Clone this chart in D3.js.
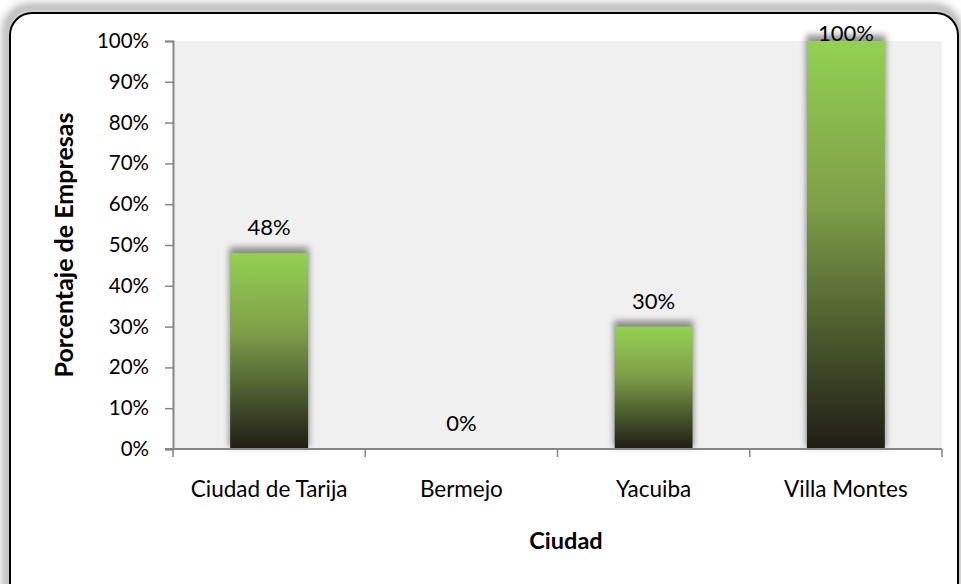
<!DOCTYPE html>
<html>
<head>
<meta charset="utf-8">
<script src="https://cdn.jsdelivr.net/npm/d3@7"></script>
<style>
	html, body { margin: 0; padding: 0; background: #fff; }
	svg text { font-family: Lato, "Open Sans", sans-serif; fill: #000; }
</style>
</head>
<body>
<div id="chart"></div>
<script>
// data
var ciudades = ["Ciudad de Tarija", "Bermejo", "Yacuiba", "Villa Montes"];
var porcentajes = [0.48, 0, 0.30, 1.00];
var yTicks = [0, 0.1, 0.2, 0.3, 0.4, 0.5, 0.6, 0.7, 0.8, 0.9, 1.0];

var w = 961;
var h = 584;

var xrange = [173, 942];
var yrange = [449, 41];

var svg = d3.select("#chart").append("svg")
	.attr("width", w)
	.attr("height", h);

var defs = svg.append("defs");

var grad = defs.append("linearGradient")
	.attr("id", "barGrad")
	.attr("x1", 0).attr("y1", 0)
	.attr("x2", 0).attr("y2", 1);
grad.append("stop").attr("offset", "0%").attr("stop-color", "#93d152");
grad.append("stop").attr("offset", "40%").attr("stop-color", "#7e9f48");
grad.append("stop").attr("offset", "75%").attr("stop-color", "#46532b");
grad.append("stop").attr("offset", "100%").attr("stop-color", "#1f1d15");

defs.append("filter")
	.attr("id", "blur3")
	.attr("x", "-20%").attr("y", "-20%")
	.attr("width", "140%").attr("height", "140%")
	.append("feGaussianBlur")
	.attr("stdDeviation", 3);

defs.append("filter")
	.attr("id", "blur5")
	.attr("x", "-5%").attr("y", "-5%")
	.attr("width", "110%").attr("height", "110%")
	.append("feGaussianBlur")
	.attr("stdDeviation", 4);

// outer rounded frame with a soft shadow
svg.append("rect")
	.attr("x", 7).attr("y", 8)
	.attr("width", 950).attr("height", 620)
	.attr("rx", 22)
	.attr("fill", "none")
	.attr("stroke", "#666")
	.attr("stroke-width", 7)
	.attr("opacity", 0.65)
	.attr("filter", "url(#blur5)");

svg.append("rect")
	.attr("x", 10).attr("y", 13)
	.attr("width", 948).attr("height", 620)
	.attr("rx", 22)
	.attr("fill", "#fff")
	.attr("stroke", "#000")
	.attr("stroke-width", 2);

// scales
var xscale = d3.scaleBand()
	.domain(ciudades)
	.range(xrange)
	.padding(0);

var yscale = d3.scaleLinear()
	.domain([0, 1])
	.range(yrange);

var barW = xscale.bandwidth() * 0.405;

// plot area
svg.append("rect")
	.attr("x", xrange[0])
	.attr("y", yrange[1])
	.attr("width", xrange[1] - xrange[0])
	.attr("height", yrange[0] - yrange[1])
	.attr("fill", "#f0f0f0");

// bar shadows
svg.selectAll("rect.bar-shadow")
	.data(porcentajes)
	.enter().append("rect")
		.attr("class", "bar-shadow")
		.attr("x", function(d, i){ return xscale(ciudades[i]) + (xscale.bandwidth() - barW) / 2 - 1; })
		.attr("y", function(d){ return yscale(d) - 6; })
		.attr("width", barW + 2)
		.attr("height", function(d){ return d > 0 ? yscale(0) - yscale(d) + 4 : 0; })
		.attr("fill", "#3a3a3a")
		.attr("opacity", 0.55)
		.attr("filter", "url(#blur3)");

// bars
svg.selectAll("rect.bar")
	.data(porcentajes)
	.enter().append("rect")
		.attr("class", "bar")
		.attr("x", function(d, i){ return xscale(ciudades[i]) + (xscale.bandwidth() - barW) / 2; })
		.attr("y", function(d){ return yscale(d); })
		.attr("width", barW)
		.attr("height", function(d){ return yscale(0) - yscale(d); })
		.attr("fill", "url(#barGrad)");

// y axis
var yaxis = d3.axisLeft(yscale)
	.tickValues(yTicks)
	.tickSize(8)
	.tickPadding(16)
	.tickFormat(d3.format(".0%"));

var gy = svg.append("g")
	.attr("transform", "translate(" + xrange[0] + ",0)")
	.call(yaxis);
gy.select(".domain").attr("stroke", "#868686").attr("stroke-width", 2);
gy.selectAll(".tick line").attr("stroke", "#868686").attr("stroke-width", 1.5);
gy.selectAll(".tick text")
	.style("font-size", "20.5px")
	.style("font-family", "Lato, sans-serif")
	.attr("fill", "#000");

// x axis: ticks sit on category boundaries
svg.append("line")
	.attr("x1", xrange[0] - 8).attr("x2", xrange[1])
	.attr("y1", yscale(0)).attr("y2", yscale(0))
	.attr("stroke", "#868686").attr("stroke-width", 2);

var bounds = ciudades.map(function(c){ return xscale(c); }).concat([xrange[1]]);
svg.selectAll("line.x-tick")
	.data(bounds)
	.enter().append("line")
		.attr("class", "x-tick")
		.attr("x1", function(d){ return d; })
		.attr("x2", function(d){ return d; })
		.attr("y1", yscale(0))
		.attr("y2", yscale(0) + 8)
		.attr("stroke", "#868686")
		.attr("stroke-width", 1.5);

svg.selectAll("text.x-label")
	.data(ciudades)
	.enter().append("text")
		.attr("class", "x-label")
		.attr("x", function(d){ return xscale(d) + xscale.bandwidth() / 2; })
		.attr("y", 497)
		.attr("text-anchor", "middle")
		.style("font-size", "22.5px")
		.text(function(d){ return d; });

// data labels (kept inside the plot top like Excel does)
svg.selectAll("text.data-label")
	.data(porcentajes)
	.enter().append("text")
		.attr("class", "data-label")
		.attr("x", function(d, i){ return xscale(ciudades[i]) + xscale.bandwidth() / 2; })
		.attr("y", function(d){ return Math.max(yscale(d) - 18, yrange[1]); })
		.attr("text-anchor", "middle")
		.style("font-size", "22px")
		.text(function(d){ return d3.format(".0%")(d); });

// axis titles
svg.append("text")
	.attr("transform", "translate(73,245) rotate(-90)")
	.attr("text-anchor", "middle")
	.style("font-size", "25px")
	.style("font-weight", "bold")
	.text("Porcentaje de Empresas");

svg.append("text")
	.attr("x", 566)
	.attr("y", 549)
	.attr("text-anchor", "middle")
	.style("font-size", "23.5px")
	.style("font-weight", "bold")
	.text("Ciudad");
</script>
</body>
</html>
